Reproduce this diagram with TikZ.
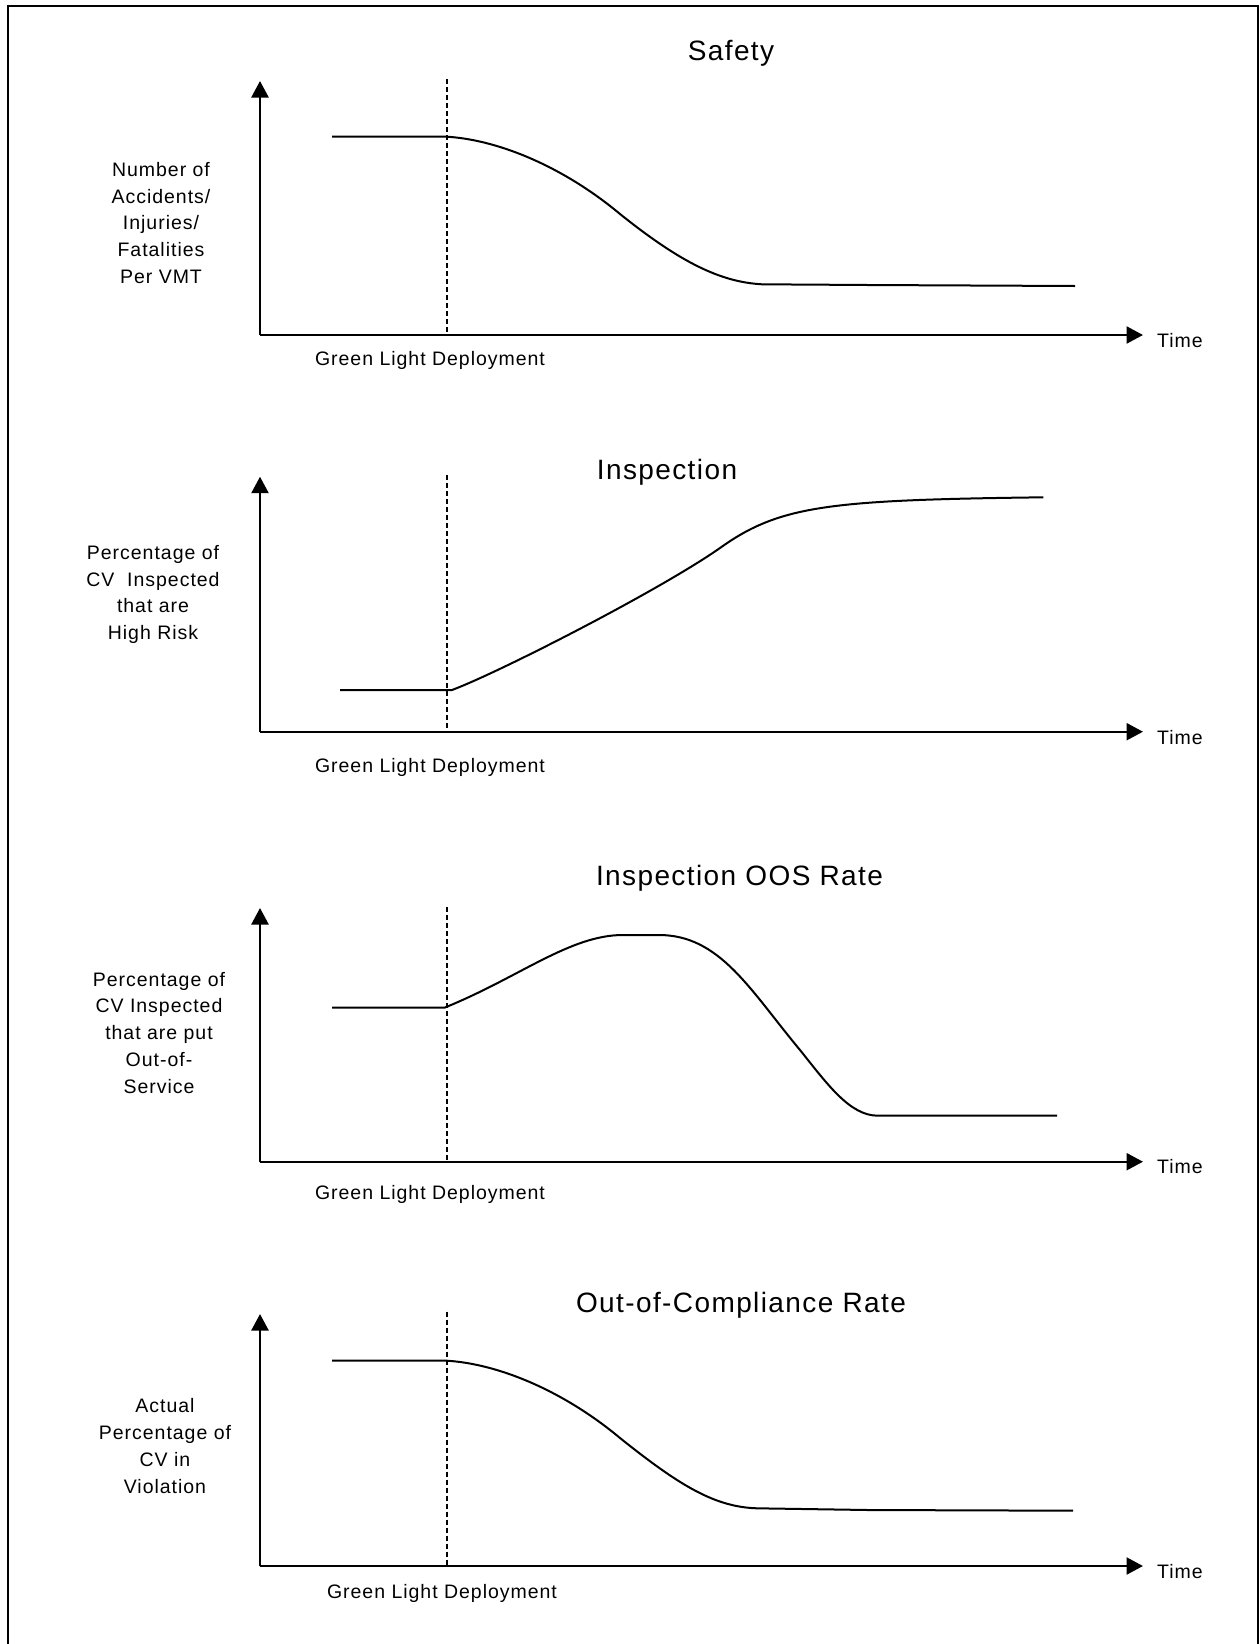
\documentclass[tikz,border=0pt]{standalone}
\usepackage{fontspec}
\setmainfont{Liberation Sans}[LetterSpace=5]
\usetikzlibrary{arrows.meta}
\begin{document}
\begin{tikzpicture}[x=1pt,y=-1pt,
  axis/.style={line width=2.4pt,-{Triangle[length=16.5pt,width=17pt]}},
  marker/.style={line width=1.3pt,dash pattern=on 5pt off 3pt},
  trend/.style={line width=2pt,line join=round},
  label/.style={font=\fontsize{19.5}{26.7}\selectfont,align=center,inner sep=0pt,anchor=base},
  heading/.style={font=\fontsize{28}{32}\selectfont,inner sep=0pt,anchor=base},
  frame/.style={line width=2.2pt}]
\useasboundingbox (0,0) rectangle (1260,1644);
% page frame
\draw[frame] (8,1644) -- (8,6) -- (1258,6) -- (1258,1644);

% ---------- Safety ----------
\coordinate (o1) at (260,335);
\coordinate (y1) at (260,81);
\coordinate (x1) at (1143,335);
\coordinate (d1) at (447,79);
\coordinate (b1) at (447,335);
\draw[axis] (o1) -- (y1);
\draw[axis] (o1) -- (x1);
\draw[marker] (d1) -- (b1);
\node[heading] (t1) at (731,60) {Safety};
% multi-line labels sit on the baseline of their last line
\node[label] (v1) at (161,283.3) {Number of\\Accidents/\\Injuries/\\Fatalities\\Per VMT};
\node[label,anchor=base west] (h1) at (1157,347) {Time};
\node[label] (g1) at (430,365.7) {Green Light Deployment};
\draw[trend] (332,136.7) -- (447,136.7)
  .. controls (500,140) and (565,168) .. (620,214)
  .. controls (680,262) and (720,282) .. (762,284.3)
  -- (868,285) -- (1075,286);

% ---------- Inspection ----------
\coordinate (o2) at (260,731.7);
\coordinate (y2) at (260,476.7);
\coordinate (x2) at (1143,731.7);
\coordinate (d2) at (447,475);
\coordinate (b2) at (447,731.7);
\draw[axis] (o2) -- (y2);
\draw[axis] (o2) -- (x2);
\draw[marker] (d2) -- (b2);
\node[heading] (t2) at (667,479) {Inspection};
\node[label] (v2) at (153,639.5) {Percentage of\\CV\ \ Inspected\\that are\\High Risk};
\node[label,anchor=base west] (h2) at (1157,744) {Time};
\node[label] (g2) at (430,772) {Green Light Deployment};
\draw[trend] (340,690) -- (452,690)
  .. controls (500,672) and (660,590) .. (720,548)
  .. controls (780,505) and (830,500) .. (1043.4,497.3);

% ---------- Inspection OOS Rate ----------
\coordinate (o3) at (260,1161.7);
\coordinate (y3) at (260,908);
\coordinate (x3) at (1143,1161.7);
\coordinate (d3) at (447,907);
\coordinate (b3) at (447,1161.7);
\draw[axis] (o3) -- (y3);
\draw[axis] (o3) -- (x3);
\draw[marker] (d3) -- (b3);
\node[heading] (t3) at (739.5,885.5) {Inspection OOS Rate};
\node[label] (v3) at (159,1093) {Percentage of\\CV Inspected\\that are put\\Out-of-\\Service};
\node[label,anchor=base west] (h3) at (1157,1173.7) {Time};
\node[label] (g3) at (430,1199.5) {Green Light Deployment};
\draw[trend] (332,1007.7) -- (444.5,1007.7)
  .. controls (520,977) and (570,935) .. (623,935)
  -- (659,935)
  .. controls (720,935) and (750,990) .. (800,1050)
  .. controls (828,1085) and (850,1115.7) .. (878,1115.7)
  -- (1057,1115.7);

% ---------- Out-of-Compliance Rate ----------
\coordinate (o4) at (260,1566);
\coordinate (y4) at (260,1314);
\coordinate (x4) at (1143,1566);
\coordinate (d4) at (447,1311.7);
\coordinate (b4) at (447,1566);
\draw[axis] (o4) -- (y4);
\draw[axis] (o4) -- (x4);
\draw[marker] (d4) -- (b4);
\node[heading] (t4) at (741,1312.5) {Out-of-Compliance Rate};
\node[label] (v4) at (165,1493) {Actual\\Percentage of\\CV in\\Violation};
\node[label,anchor=base west] (h4) at (1157,1578.7) {Time};
\node[label] (g4) at (442,1598) {Green Light Deployment};
\draw[trend] (332,1360.7) -- (447,1360.7)
  .. controls (500,1364) and (565,1392) .. (620,1438)
  .. controls (680,1486) and (715,1507) .. (757,1508.3)
  -- (868,1510) -- (1073,1510.7);
\end{tikzpicture}
\end{document}
